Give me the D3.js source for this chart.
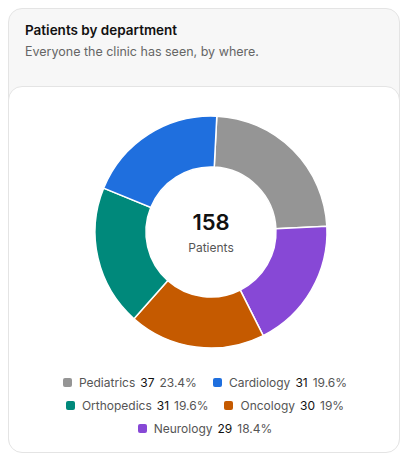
<!DOCTYPE html>
<html>
<head>
<meta charset="utf-8">
<script src="https://cdn.jsdelivr.net/npm/d3@7"></script>
<style>
  body { margin: 0; font-family: Inter, "Noto Sans", sans-serif; background: #fff; }
  .card { position: absolute; left: 8px; top: 8px; width: 392px; height: 444px;
    background: #f7f7f7; border: 1px solid #e4e4e4; border-radius: 14px; box-sizing: border-box; }
  .title { position: absolute; left: 16px; top: 13px; font-size: 13.5px; font-weight: 600; color: #111; }
  .sub { position: absolute; left: 16px; top: 35px; font-size: 12.5px; color: #666; }
  .panel { position: absolute; left: -1px; top: 77px; width: 392px; height: 367px; background: #fff;
    border: 1px solid #e4e4e4; border-radius: 14px; box-sizing: border-box; }
  .legend { position: absolute; left: 40px; top: 287px; width: 312px; display: flex; flex-wrap: wrap;
    justify-content: center; row-gap: 6px; column-gap: 16px; font-size: 12px; color: #555; }
  .item { display: flex; align-items: center; height: 17px; }
  .sw { width: 9px; height: 9px; border-radius: 2px; margin-right: 7px; }
  .v { color: #111; margin: 0 5px 0 5px; }
</style>
</head>
<body>
<div class="card">
  <div class="title">Patients by department</div>
  <div class="sub">Everyone the clinic has seen, by where.</div>
  <div class="panel">
    <svg id="chart" width="392" height="280"></svg>
    <div class="legend" id="legend"></div>
  </div>
</div>
<script>
const departments = ['Pediatrics', 'Cardiology', 'Orthopedics', 'Oncology', 'Neurology'];
const patients = [37, 31, 31, 30, 29];
const colors = ['#959595', '#1f6fde', '#00897b', '#c55a00', '#8748d6'];
const pieOrder = ['Pediatrics', 'Neurology', 'Oncology', 'Orthopedics', 'Cardiology'];

const total = d3.sum(patients);
const data = departments.map((d, i) => ({ name: d, value: patients[i], color: colors[i] }));
const byName = new Map(data.map(d => [d.name, d]));

const svg = d3.select('#chart');
const g = svg.append('g').attr('transform', 'translate(202,145)');

const pie = d3.pie().sort(null).value(d => d.value).startAngle(0.05).endAngle(0.05 + 2 * Math.PI);
const arc = d3.arc().innerRadius(65).outerRadius(116);

g.selectAll('path')
  .data(pie(pieOrder.map(n => byName.get(n))))
  .join('path')
    .attr('d', arc)
    .attr('fill', d => d.data.color)
    .attr('stroke', '#fff')
    .attr('stroke-width', 1.5);

g.append('text').attr('text-anchor', 'middle').attr('y', -2)
  .attr('font-size', 22).attr('font-weight', 600).attr('fill', '#111').text(total);
g.append('text').attr('text-anchor', 'middle').attr('y', 20)
  .attr('font-size', 12).attr('fill', '#555').text('Patients');

const fmt = v => (+(v / total * 100).toFixed(1)) + '%';
const items = d3.select('#legend').selectAll('.item').data(data).join('div').attr('class', 'item');
items.append('span').attr('class', 'sw').style('background', d => d.color);
items.append('span').text(d => d.name);
items.append('span').attr('class', 'v').text(d => d.value);
items.append('span').text(d => fmt(d.value));
</script>
</body>
</html>
